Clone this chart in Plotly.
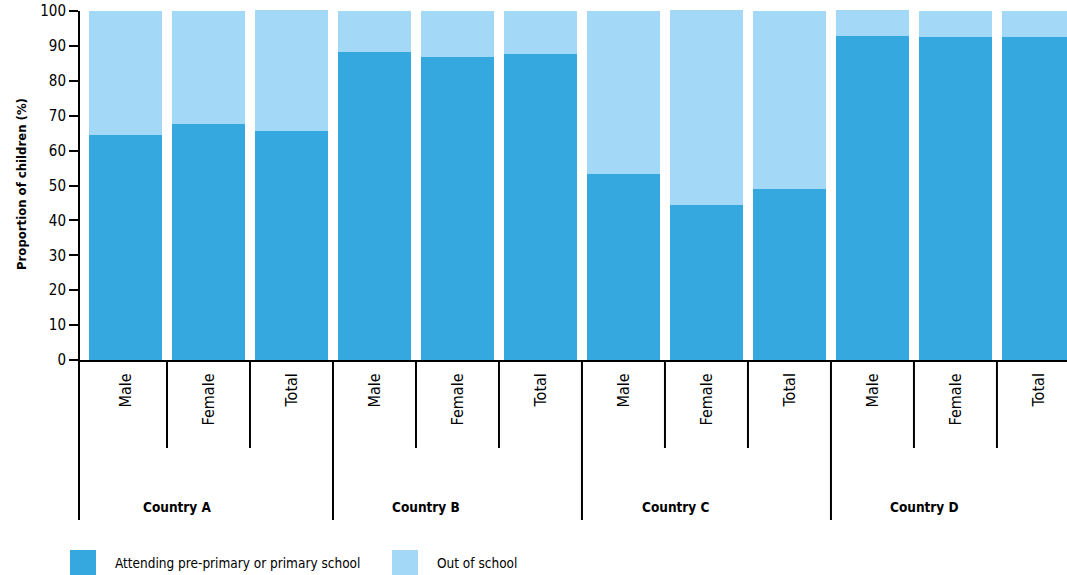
import plotly.graph_objects as go

# === Dados === #
paises = ["Country A", "Country B", "Country C", "Country D"]
grupos = ["Male", "Female", "Total"]
frequentando = [64.6, 67.5, 65.6, 88.2, 86.8, 87.6, 53.4, 44.5, 49.0, 92.8, 92.5, 92.5]
fora_escola = [35.4, 32.5, 34.7, 11.8, 13.2, 12.4, 46.6, 55.8, 51.0, 7.5, 7.5, 7.5]
yticks = [0, 10, 20, 30, 40, 50, 60, 70, 80, 90, 100]

nomes = ["Attending pre-primary or primary school", "Out of school"]
cores = ["#35A8DF", "#A3D9F6"]

fonte = "DejaVu Sans Condensed, Liberation Sans Narrow, sans-serif"

# === Geometria === #
W, H = 1067, 575
ml, mr, mt, mb = 79, 0, 8, 215
pw = W - ml - mr
ph = H - mt - mb
y_top = 100 * ph / (360 - 11)


def py(pix):  # pixel vertical -> coordenada paper
    return (360 - pix) / ph


def px(pix):  # pixel horizontal -> coordenada paper
    return (pix - 79) / pw


n = len(paises) * len(grupos)
x = list(range(n))
rotulos = [g for p in paises for g in grupos]

fig = go.Figure()
fig.add_trace(
    go.Bar(x=x, y=frequentando, name=nomes[0], marker=dict(color=cores[0], line=dict(width=0)), showlegend=False)
)
fig.add_trace(
    go.Bar(x=x, y=fora_escola, name=nomes[1], marker=dict(color=cores[1], line=dict(width=0)), showlegend=False)
)

shapes = []
# eixo y estendido para baixo
shapes.append(
    dict(type="line", xref="paper", yref="paper", x0=0, x1=0, y0=100 / y_top, y1=py(520),
         line=dict(color="black", width=2))
)
# separadores das categorias
for i in range(n - 1):
    fim_pais = (i + 1) % len(grupos) == 0
    shapes.append(
        dict(type="line", xref="x", yref="paper", x0=i + 0.5, x1=i + 0.5, y0=0,
             y1=py(520) if fim_pais else py(448), line=dict(color="black", width=2))
    )

annotations = []
for i, r in enumerate(rotulos):
    annotations.append(
        dict(x=i, y=py(371), xref="x", yref="paper", text=r, textangle=-90, showarrow=False,
             xanchor="center", yanchor="top", font=dict(size=16, color="black", family=fonte))
    )
for j, p in enumerate(paises):
    annotations.append(
        dict(x=j * len(grupos) + 1, y=py(507), xref="x", yref="paper", text="<b>" + p + "</b>",
             showarrow=False, xanchor="center", yanchor="middle", xshift=-31,
             font=dict(size=13.5, color="black", family=fonte))
    )

# legenda manual
leg_x = [70, 392]
for k in range(2):
    shapes.append(
        dict(type="rect", xref="paper", yref="paper", x0=px(leg_x[k]), x1=px(leg_x[k] + 26),
             y0=py(550), y1=py(576), fillcolor=cores[k], line=dict(width=0))
    )
    annotations.append(
        dict(x=px(leg_x[k] + 43), y=py(563), xref="paper", yref="paper", text=nomes[k], showarrow=False,
             xanchor="left", yanchor="middle", font=dict(size=13.5, color="black", family=fonte))
    )

fig.update_layout(
    barmode="stack",
    bargap=0.12,
    width=W,
    height=H,
    margin=dict(l=ml, r=mr, t=mt, b=mb),
    plot_bgcolor="white",
    paper_bgcolor="white",
    font=dict(family=fonte, color="black"),
    xaxis=dict(
        range=[-0.56, 11.344],
        showticklabels=False,
        ticks="",
        showgrid=False,
        zeroline=False,
        showline=True,
        linecolor="black",
        linewidth=2,
    ),
    yaxis=dict(
        range=[0, y_top],
        tickvals=yticks,
        ticks="outside",
        ticklen=9,
        tickwidth=2,
        tickcolor="black",
        showgrid=False,
        zeroline=False,
        showline=False,
        tickfont=dict(size=15, color="black", family=fonte),
        title=dict(text="<b>Proportion of children (%)</b>", font=dict(size=13, family=fonte), standoff=10),
    ),
    shapes=shapes,
    annotations=annotations,
)

# tira a margem padrão do body para a figura ocupar a janela toda
fig.write_html(
    "out.html",
    config={"displayModeBar": False},
    post_script="document.body.style.margin='0';",
)
